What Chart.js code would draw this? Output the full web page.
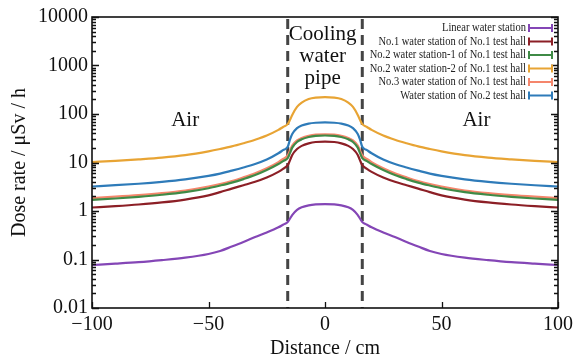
<!DOCTYPE html>
<html>
<head>
<meta charset="utf-8">
<script src="https://cdn.jsdelivr.net/npm/chart.js@4.4.1/dist/chart.umd.min.js"></script>
<style>
    html, body { margin: 0; padding: 0; background: #fff; }
</style>
</head>
<body>
<canvas id="doseChart" width="578" height="358"></canvas>
<script>
// === Data ===
// Distance from pipe centre (cm)
const distances = [-100, -90, -80, -70, -60, -50, -45, -40, -35, -30, -25, -20, -18, -16, -15, -14, -12, -10, -7, -4, 0,
                   4, 7, 10, 12, 14, 15, 16, 18, 20, 25, 30, 35, 40, 45, 50, 60, 70, 80, 90, 100];

// Dose rate (µSv/h) for each station
const linearStation = [0.077, 0.082, 0.088, 0.097, 0.109, 0.13, 0.15, 0.185, 0.23, 0.29, 0.36, 0.46, 0.52, 0.59, 0.7, 0.83, 1.05, 1.19, 1.31, 1.37, 1.39,
                       1.37, 1.31, 1.19, 1.05, 0.83, 0.7, 0.59, 0.52, 0.46, 0.36, 0.29, 0.23, 0.185, 0.15, 0.13, 0.109, 0.097, 0.088, 0.082, 0.077];
const no1StationHall1 = [1.18, 1.26, 1.36, 1.5, 1.72, 2.1, 2.45, 2.9, 3.4, 4.0, 4.9, 6.4, 7.4, 8.8, 11.2, 14.5, 19, 22, 24.8, 26.5, 27,
                         26.5, 24.8, 22, 19, 14.5, 11.2, 8.8, 7.4, 6.4, 4.9, 4.0, 3.4, 2.9, 2.45, 2.1, 1.72, 1.5, 1.36, 1.26, 1.18];
const no2Station1Hall1 = [1.7, 1.81, 1.96, 2.16, 2.45, 2.95, 3.35, 3.85, 4.55, 5.5, 7.0, 9.3, 10.7, 12.3, 15.8, 20.5, 26.5, 30, 33.5, 35.5, 36,
                          35.5, 33.5, 30, 26.5, 20.5, 15.8, 12.3, 10.7, 9.3, 7.0, 5.5, 4.55, 3.85, 3.35, 2.95, 2.45, 2.16, 1.96, 1.81, 1.7];
const no2Station2Hall1 = [10.2, 10.8, 11.6, 12.6, 14.2, 17, 19, 21.5, 25, 29.5, 36, 47, 54, 62, 76, 97, 140, 172, 204, 218, 222,
                          218, 204, 172, 140, 97, 76, 62, 54, 47, 36, 29.5, 25, 21.5, 19, 17, 14.2, 12.6, 11.6, 10.8, 10.2];
const no3StationHall1 = [1.85, 1.97, 2.12, 2.33, 2.65, 3.2, 3.6, 4.15, 4.95, 6.0, 7.6, 10.2, 11.8, 14, 17.8, 22.5, 28.5, 32, 35.5, 37.5, 38,
                         37.5, 35.5, 32, 28.5, 22.5, 17.8, 14, 11.8, 10.2, 7.6, 6.0, 4.95, 4.15, 3.6, 3.2, 2.65, 2.33, 2.12, 1.97, 1.85];
const stationHall2 = [3.2, 3.4, 3.65, 4.0, 4.5, 5.3, 5.9, 6.8, 7.9, 9.3, 11.5, 15.5, 18, 21, 30, 39, 51, 58, 63.5, 66, 67,
                      66, 63.5, 58, 51, 39, 30, 21, 18, 15.5, 11.5, 9.3, 7.9, 6.8, 5.9, 5.3, 4.5, 4.0, 3.65, 3.4, 3.2];

const seriesNames = [
    "Linear water station",
    "No.1 water station of No.1 test hall",
    "No.2 water station-1 of No.1 test hall",
    "No.2 water station-2 of No.1 test hall",
    "No.3 water station of No.1 test hall",
    "Water station of No.2 test hall"
];
const seriesValues = [linearStation, no1StationHall1, no2Station1Hall1, no2Station2Hall1, no3StationHall1, stationHall2];
const seriesColors = ["#8446b6", "#8c1f26", "#3f8a46", "#e8a434", "#f5866c", "#2e7bb9"];

const doseTicks = [0.01, 0.1, 1, 10, 100, 1000, 10000];
const distanceTicks = [-100, -50, 0, 50, 100];
const pipeEdges = [-16, 16];

const serif = "'Liberation Serif', 'DejaVu Serif', serif";

// === Inward ticks, frame, dashed pipe edges, texts and legend ===
const decorPlugin = {
    id: "decor",
    beforeDatasetsDraw(chart) {
        const { ctx, chartArea: a, scales: { x } } = chart;
        ctx.save();
        ctx.strokeStyle = "#444";
        ctx.lineWidth = 3;
        ctx.setLineDash([10, 6]);
        pipeEdges.forEach(v => {
            const px = x.getPixelForValue(v);
            ctx.beginPath();
            ctx.moveTo(px, a.top + 2);
            ctx.lineTo(px, a.bottom);
            ctx.stroke();
        });
        ctx.restore();
    },
    afterDraw(chart) {
        const { ctx, chartArea: a, scales: { x, y } } = chart;
        ctx.save();
        ctx.strokeStyle = "#111";
        ctx.lineWidth = 1.3;

        // minor + major log ticks on left and right
        ctx.beginPath();
        for (let d = 0; d < doseTicks.length; d++) {
            const base = doseTicks[d];
            for (let m = 1; m <= 9; m++) {
                const v = base * m;
                if (v > 10000) break;
                const py = Math.round(y.getPixelForValue(v)) + 0.5;
                const len = m === 1 ? 7 : 4;
                ctx.moveTo(a.left, py); ctx.lineTo(a.left + len, py);
                ctx.moveTo(a.right, py); ctx.lineTo(a.right - len, py);
            }
        }
        // bottom ticks
        distanceTicks.forEach(v => {
            const px = Math.round(x.getPixelForValue(v)) + 0.5;
            ctx.moveTo(px, a.bottom); ctx.lineTo(px, a.bottom - 6);
        });
        ctx.stroke();

        // frame
        ctx.lineWidth = 1.6;
        ctx.strokeRect(a.left, a.top, a.right - a.left, a.bottom - a.top);

        // annotations
        ctx.fillStyle = "#111";
        ctx.font = "21px " + serif;
        ctx.textAlign = "center";
        ctx.textBaseline = "middle";
        ctx.fillText("Air", x.getPixelForValue(-60), 120);
        ctx.fillText("Air", x.getPixelForValue(65), 120);
        ctx.fillText("Cooling", x.getPixelForValue(-1), 34);
        ctx.fillText("water", x.getPixelForValue(-1), 56);
        ctx.fillText("pipe", x.getPixelForValue(-1), 78);

        // legend (text right-aligned, slightly condensed, error-bar symbol on the right)
        ctx.font = "12px " + serif;
        ctx.textAlign = "right";
        const symL = a.right - 29, symR = a.right - 6;
        seriesNames.forEach((name, i) => {
            const ly = 28 + i * 13.5;
            ctx.save();
            ctx.translate(symL - 3, ly);
            ctx.scale(0.875, 1);
            ctx.fillStyle = "#222";
            ctx.fillText(name, 0, 0);
            ctx.restore();
            ctx.strokeStyle = seriesColors[i];
            ctx.lineWidth = 2;
            ctx.beginPath();
            ctx.moveTo(symL, ly); ctx.lineTo(symR, ly);
            ctx.moveTo(symL, ly - 4); ctx.lineTo(symL, ly + 4);
            ctx.moveTo(symR, ly - 4); ctx.lineTo(symR, ly + 4);
            ctx.stroke();
        });
        ctx.restore();
    }
};

// === Build the chart ===
const datasets = seriesNames.map((name, i) => ({
    label: name,
    data: distances.map((d, k) => ({ x: d, y: seriesValues[i][k] })),
    borderColor: seriesColors[i],
    backgroundColor: seriesColors[i],
    borderWidth: 2.2,
    pointRadius: 0,
    cubicInterpolationMode: "monotone"
}));

new Chart(document.getElementById("doseChart"), {
    type: "line",
    data: { datasets },
    options: {
        responsive: false,
        animation: false,
        layout: { padding: { left: 8, right: 18, top: 17, bottom: 0 } },
        plugins: { legend: { display: false }, tooltip: { enabled: false } },
        scales: {
            x: {
                type: "linear",
                min: -100,
                max: 100,
                afterBuildTicks: s => { s.ticks = distanceTicks.map(v => ({ value: v })); },
                afterFit: s => { s.height = 50; },
                grid: { display: false, drawTicks: false },
                border: { display: false },
                ticks: {
                    padding: 5,
                    color: "#111",
                    font: { family: serif, size: 20 },
                    callback: v => String(v).replace("-", "\u2212")
                },
                title: {
                    display: true,
                    text: "Distance / cm",
                    color: "#111",
                    font: { family: serif, size: 20 },
                    padding: { top: 0, bottom: -3 }
                }
            },
            y: {
                type: "logarithmic",
                min: 0.01,
                max: 10000,
                afterBuildTicks: s => { s.ticks = doseTicks.map(v => ({ value: v })); },
                afterFit: s => { s.width = 84; },
                grid: { display: false, drawTicks: false },
                border: { display: false },
                ticks: {
                    padding: 4,
                    color: "#111",
                    autoSkip: false,
                    font: { family: serif, size: 20 },
                    callback: v => String(v)
                },
                title: {
                    display: true,
                    text: "Dose rate / \u03bcSv / h",
                    color: "#111",
                    font: { family: serif, size: 20 },
                    padding: 0
                }
            }
        }
    },
    plugins: [decorPlugin]
});
</script>
</body>
</html>
